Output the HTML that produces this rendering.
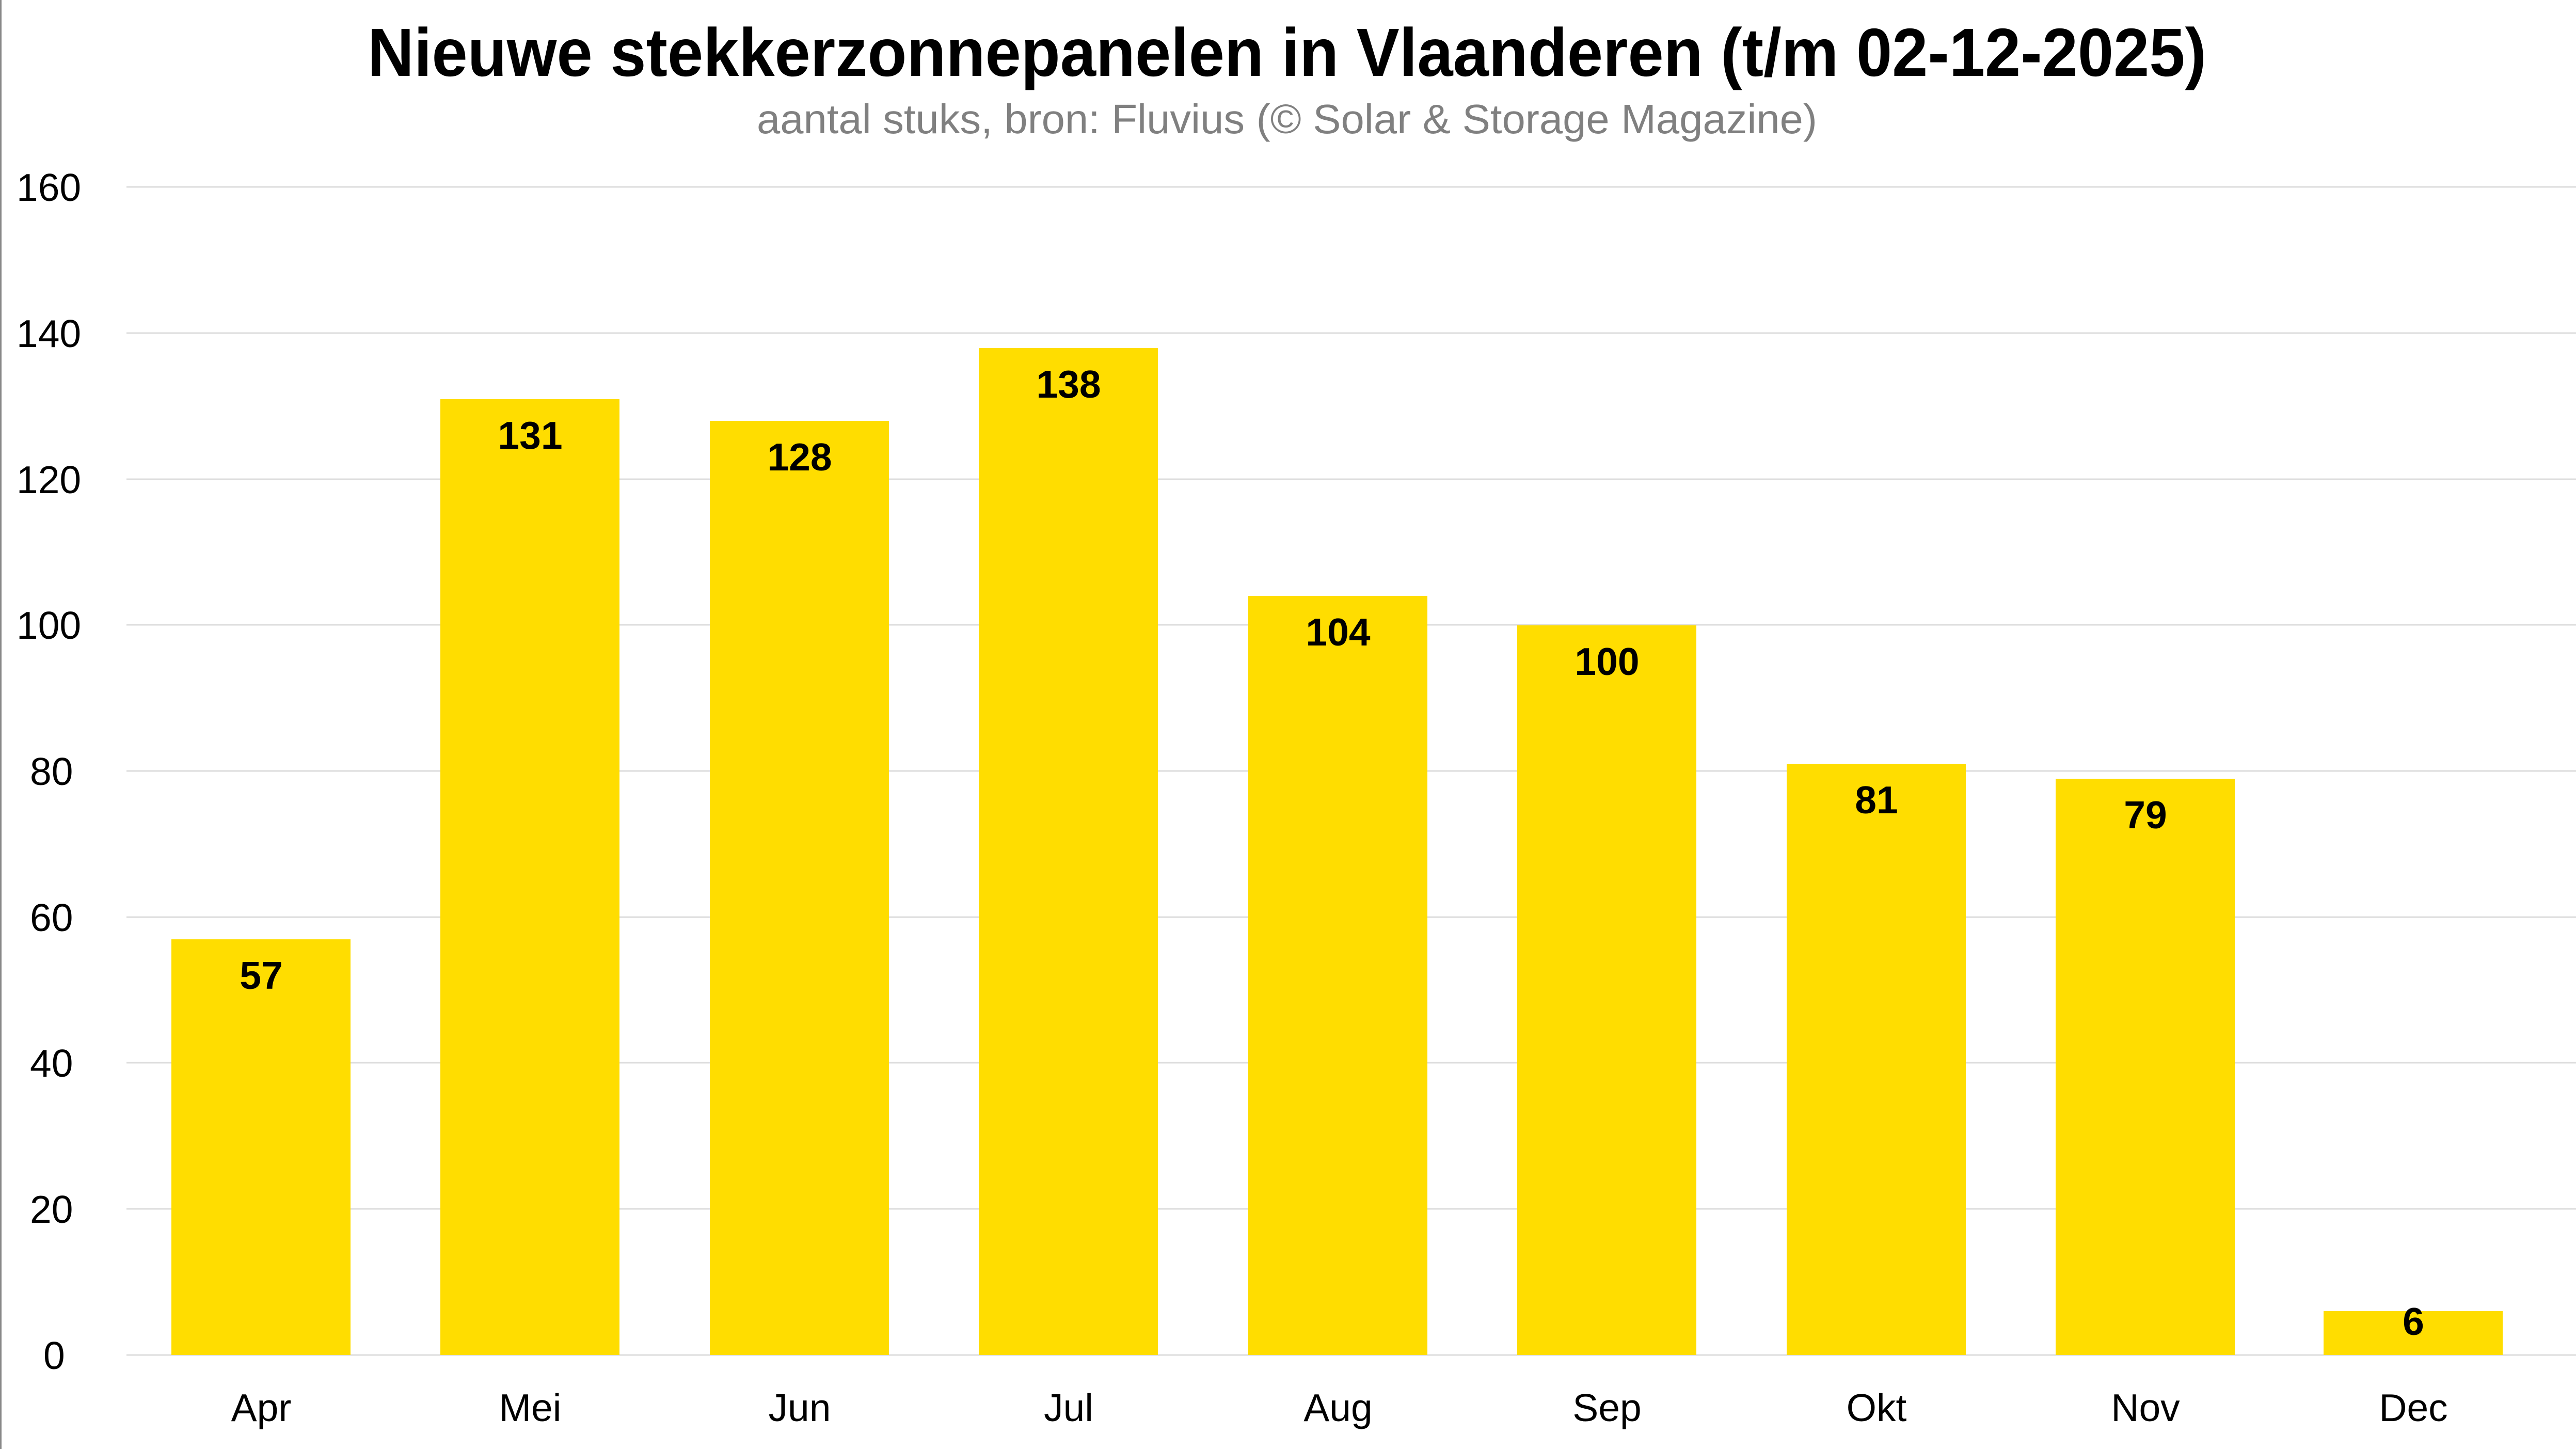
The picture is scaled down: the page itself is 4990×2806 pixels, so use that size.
<!DOCTYPE html>
<html><head><meta charset="utf-8"><style>html,body{margin:0;padding:0;background:#fff}svg{display:block}</style></head>
<body>
<svg width="4990" height="2806" viewBox="0 0 4990 2806" xmlns="http://www.w3.org/2000/svg" font-family="'Liberation Sans', sans-serif">
<rect width="4990" height="2806" fill="#fff"/>
<line x1="1.5" y1="0" x2="1.5" y2="2806" stroke="#888" stroke-width="3"/>
<text x="2493" y="147" font-size="132" font-weight="bold" text-anchor="middle" textLength="3562" lengthAdjust="spacingAndGlyphs">Nieuwe stekkerzonnepanelen in Vlaanderen (t/m 02-12-2025)</text>
<text x="2493" y="258" font-size="80" fill="#808080" text-anchor="middle" textLength="2054" lengthAdjust="spacingAndGlyphs">aantal stuks, bron: Fluvius (© Solar &amp; Storage Magazine)</text>
<g stroke="#dcdcdc" stroke-width="3">
<line x1="245" x2="4990" y1="362" y2="362"/>
<line x1="245" x2="4990" y1="645" y2="645"/>
<line x1="245" x2="4990" y1="928" y2="928"/>
<line x1="245" x2="4990" y1="1210" y2="1210"/>
<line x1="245" x2="4990" y1="1493" y2="1493"/>
<line x1="245" x2="4990" y1="1776" y2="1776"/>
<line x1="245" x2="4990" y1="2058" y2="2058"/>
<line x1="245" x2="4990" y1="2341" y2="2341"/>
<line x1="245" x2="4990" y1="2624" y2="2624"/>
</g>
<g font-size="75" fill="#000" text-anchor="start">
<text x="32" y="389">160</text>
<text x="32" y="672">140</text>
<text x="32" y="955">120</text>
<text x="32" y="1237">100</text>
<text x="58" y="1520">80</text>
<text x="58" y="1803">60</text>
<text x="58" y="2085">40</text>
<text x="58" y="2368">20</text>
<text x="84" y="2651">0</text>
</g>
<g fill="#FFDD00">
<rect x="332" y="1819" width="347" height="805"/>
<rect x="853" y="773" width="347" height="1851"/>
<rect x="1375" y="815" width="347" height="1809"/>
<rect x="1896" y="674" width="347" height="1950"/>
<rect x="2418" y="1154" width="347" height="1470"/>
<rect x="2939" y="1211" width="347" height="1413"/>
<rect x="3461" y="1479" width="347" height="1145"/>
<rect x="3982" y="1508" width="347" height="1116"/>
<rect x="4501" y="2539" width="347" height="85"/>
</g>
<g font-size="75" font-weight="bold" text-anchor="middle">
<text x="506" y="1915">57</text>
<text x="1027" y="869">131</text>
<text x="1549" y="911">128</text>
<text x="2070" y="770">138</text>
<text x="2592" y="1250">104</text>
<text x="3113" y="1307">100</text>
<text x="3635" y="1575">81</text>
<text x="4156" y="1604">79</text>
<text x="4675" y="2585">6</text>
</g>
<g font-size="75" text-anchor="middle">
<text x="506" y="2752">Apr</text>
<text x="1027" y="2752">Mei</text>
<text x="1549" y="2752">Jun</text>
<text x="2070" y="2752">Jul</text>
<text x="2592" y="2752">Aug</text>
<text x="3113" y="2752">Sep</text>
<text x="3635" y="2752">Okt</text>
<text x="4156" y="2752">Nov</text>
<text x="4675" y="2752">Dec</text>
</g>
</svg>
</body></html>
